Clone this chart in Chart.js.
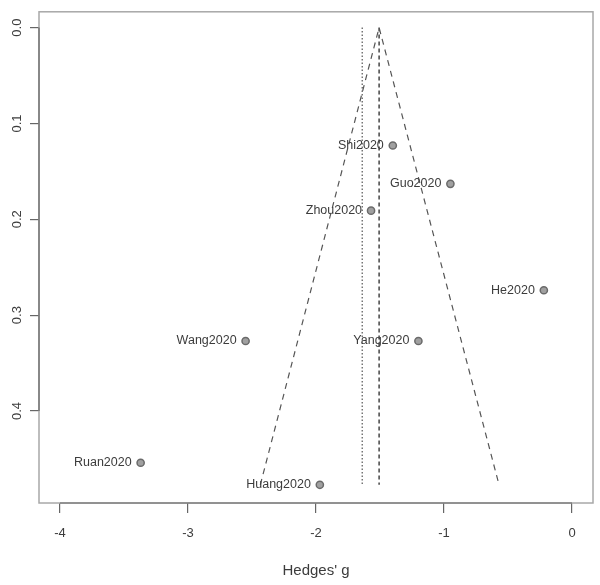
<!DOCTYPE html>
<html>
<head>
<meta charset="utf-8">
<script src="https://cdn.jsdelivr.net/npm/chart.js@4"></script>
<style>
  html, body { margin: 0; padding: 0; background: #fff; }
  #wrap { width: 600px; height: 585px; }
</style>
</head>
<body>
<div id="wrap"><canvas id="funnelChart" width="600" height="585"></canvas></div>
<script>
// studies
const studies = ['Shi2020', 'Guo2020', 'Zhou2020', 'He2020', 'Wang2020', 'Yang2020', 'Ruan2020', 'Huang2020'];
const hedgesG = [-1.40, -0.95, -1.57, -0.22, -2.55, -1.20, -3.37, -1.97];
const stdErr  = [0.123, 0.163, 0.191, 0.274, 0.327, 0.327, 0.454, 0.477];

// pooled estimate, the dotted reference line and the funnel bottom
const pooled = -1.507;
const dottedAt = -1.639;
const seMax = 0.477;
const funnelLeft = -2.435;
const funnelRight = -0.57;

const xTicks = [-4, -3, -2, -1, 0];
const yTicks = [0, 0.1, 0.2, 0.3, 0.4];

const ink = '#3c3c3c';
const font = "'Liberation Sans', Arial, sans-serif";

const boxPlugin = {
    id: 'boxPlugin',
    afterDraw(chart) {
        const { ctx, chartArea: a, scales } = chart;
        ctx.save();
        // plot frame
        ctx.strokeStyle = '#a8a8a8';
        ctx.lineWidth = 1.5;
        ctx.strokeRect(a.left, a.top, a.right - a.left, a.bottom - a.top);
        // axis lines from first to last tick
        ctx.strokeStyle = '#666';
        ctx.lineWidth = 1.2;
        ctx.beginPath();
        ctx.moveTo(scales.x.getPixelForValue(xTicks[0]), a.bottom);
        ctx.lineTo(scales.x.getPixelForValue(xTicks[xTicks.length - 1]), a.bottom);
        ctx.moveTo(a.left, scales.y.getPixelForValue(yTicks[0]));
        ctx.lineTo(a.left, scales.y.getPixelForValue(yTicks[yTicks.length - 1]));
        ctx.stroke();

        // study labels, left of each point
        const meta = chart.getDatasetMeta(3);
        ctx.fillStyle = ink;
        ctx.font = '12.5px ' + font;
        ctx.textAlign = 'right';
        ctx.textBaseline = 'middle';
        meta.data.forEach((pt, i) => {
            ctx.fillText(studies[i], pt.x - 9, pt.y);
        });
        ctx.restore();
    }
};

const ctx = document.getElementById('funnelChart').getContext('2d');

new Chart(ctx, {
    type: 'scatter',
    data: {
        datasets: [
            {
                label: 'funnel',
                data: [{ x: funnelLeft, y: seMax }, { x: pooled, y: 0 }, { x: funnelRight, y: seMax }],
                showLine: true,
                borderColor: '#555',
                borderWidth: 1.2,
                borderDash: [6, 5],
                pointRadius: 0
            },
            {
                label: 'pooled',
                data: [{ x: pooled, y: 0 }, { x: pooled, y: seMax }],
                showLine: true,
                borderColor: '#444',
                borderWidth: 1.5,
                borderDash: [4, 3],
                pointRadius: 0
            },
            {
                label: 'dotted',
                data: [{ x: dottedAt, y: 0 }, { x: dottedAt, y: seMax }],
                showLine: true,
                borderColor: '#555',
                borderWidth: 1.2,
                borderDash: [1.5, 2],
                pointRadius: 0
            },
            {
                label: 'studies',
                data: hedgesG.map((g, i) => ({ x: g, y: stdErr[i] })),
                pointRadius: 3.6,
                backgroundColor: '#a0a0a0',
                borderColor: '#6a6a6a',
                borderWidth: 1.5
            }
        ]
    },
    options: {
        responsive: false,
        animation: false,
        layout: { padding: { top: 6, right: 7, left: 0, bottom: 0 } },
        plugins: {
            legend: { display: false },
            tooltip: { enabled: false }
        },
        scales: {
            x: {
                type: 'linear',
                min: -4.164,
                max: 0.164,
                afterBuildTicks: s => { s.ticks = xTicks.map(v => ({ value: v })); },
                afterFit: s => { s.height = 82; },
                border: { display: false },
                grid: { drawOnChartArea: false, tickLength: 10, color: '#666', lineWidth: 1.2 },
                ticks: {
                    color: ink,
                    padding: 13,
                    font: { family: font, size: 13 },
                    maxRotation: 0,
                    callback: v => String(v)
                },
                title: {
                    display: true,
                    text: "Hedges' g",
                    color: ink,
                    font: { family: font, size: 15 },
                    padding: { top: 0, bottom: 5 }
                }
            },
            y: {
                type: 'linear',
                reverse: true,
                min: -0.0165,
                max: 0.496,
                afterBuildTicks: s => { s.ticks = yTicks.map(v => ({ value: v })); },
                afterFit: s => { s.width = 39; },
                border: { display: false },
                grid: { drawOnChartArea: false, tickLength: 9, color: '#666', lineWidth: 1.2 },
                ticks: {
                    color: ink,
                    padding: 4,
                    minRotation: 90,
                    maxRotation: 90,
                    crossAlign: 'center',
                    font: { family: font, size: 13 },
                    callback: v => v.toFixed(1)
                }
            }
        }
    },
    plugins: [boxPlugin]
});
</script>
</body>
</html>
